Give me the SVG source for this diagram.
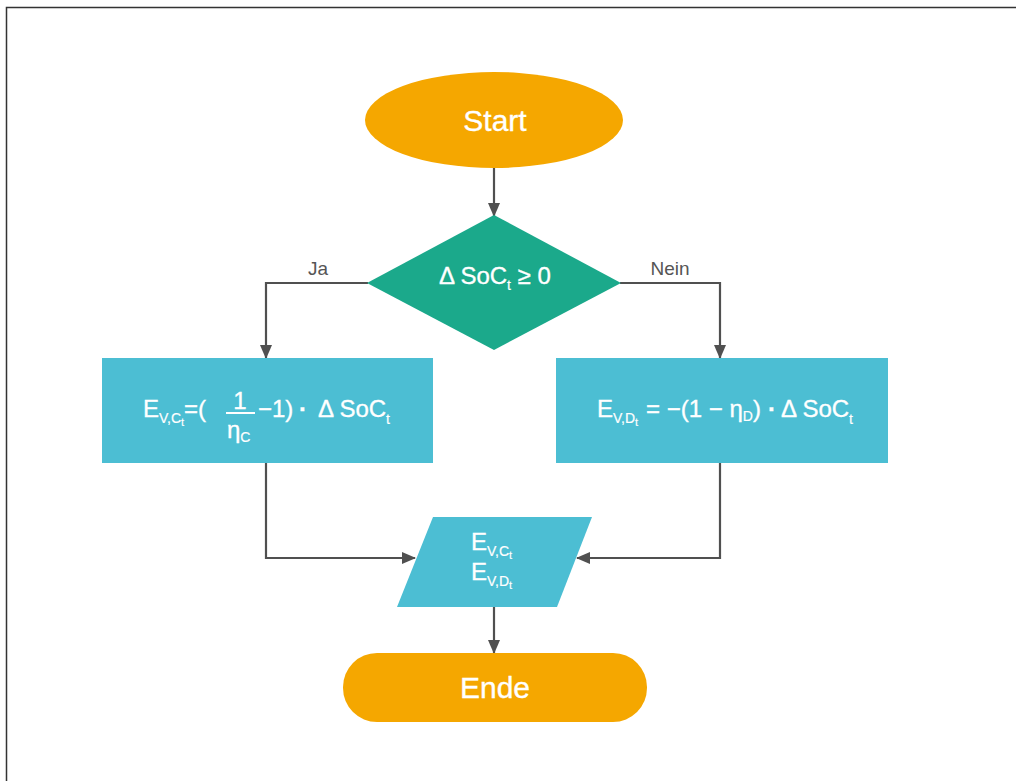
<svg xmlns="http://www.w3.org/2000/svg" width="1016" height="781" viewBox="0 0 1016 781">
  <style>
    .t { font-family: "Liberation Sans", Arial, sans-serif; fill: #ffffff; stroke: #ffffff; stroke-width: 0.35; }
    .big { font-size: 30px; }
    .f { font-size: 24px; }
    .s { font-size: 14px; stroke-width: 0.2; }
    .ss { font-size: 11px; stroke-width: 0.2; }
    .lbl { font-family: "Liberation Sans", Arial, sans-serif; font-size: 19px; fill: #555555; }
    .edge { fill: none; stroke: #505050; stroke-width: 2.2; }
  </style>
  <defs>
    <marker id="arrow" markerUnits="userSpaceOnUse" markerWidth="14" markerHeight="12" refX="13" refY="6" orient="auto">
      <path d="M0,0 L14,6 L0,12 z" fill="#505050"/>
    </marker>
  </defs>

  <rect x="0" y="0" width="1016" height="781" fill="#ffffff"/>
  <!-- frame -->
  <path d="M6.5,781 V7.5 H1016" fill="none" stroke="#333333" stroke-width="1.5"/>

  <g id="connectors">
    <path class="edge" d="M494,168 V216" marker-end="url(#arrow)"/>
    <path class="edge" d="M368,283 H266 V358" marker-end="url(#arrow)"/>
    <path class="edge" d="M620,283 H720 V358" marker-end="url(#arrow)"/>
    <path class="edge" d="M266,463 V558 H415" marker-end="url(#arrow)"/>
    <path class="edge" d="M720,463 V558 H577" marker-end="url(#arrow)"/>
    <path class="edge" d="M494,607 V653" marker-end="url(#arrow)"/>
    <text class="lbl" x="318" y="275" text-anchor="middle">Ja</text>
    <text class="lbl" x="670" y="275" text-anchor="middle">Nein</text>
  </g>

  <g id="start">
    <ellipse cx="494" cy="120" rx="129" ry="48" fill="#F5A700"/>
    <text class="t big" x="495" y="131" text-anchor="middle">Start</text>
  </g>

  <g id="decision">
    <polygon points="494,215 621,283 494,350 367,283" fill="#1BA98B"/>
    <text class="t f" x="439" y="284">Δ SoC<tspan class="s" dy="6">t</tspan><tspan dy="-6"> ≥ 0</tspan></text>
  </g>

  <g id="charge">
    <rect x="102" y="358" width="331" height="105" fill="#4CBED3"/>
    <text class="t f" x="143" y="417">E<tspan class="s" dy="6">V,C</tspan><tspan class="ss" dy="3">t</tspan></text>
    <text class="t f" x="184" y="417">=(</text>
    <text class="t f" x="240" y="409" text-anchor="middle">1</text>
    <line x1="226" y1="413" x2="255" y2="413" stroke="#ffffff" stroke-width="2"/>
    <text class="t f" x="227" y="438">η<tspan class="s" dy="4">C</tspan></text>
    <text class="t f" x="258" y="417">−1)</text>
    <text class="t f" x="299" y="417" font-weight="bold">·</text>
    <text class="t f" x="318" y="417">Δ SoC<tspan class="s" dy="7">t</tspan></text>
  </g>

  <g id="discharge">
    <rect x="556" y="358" width="332" height="105" fill="#4CBED3"/>
    <text class="t f" x="597" y="417">E<tspan class="s" dy="6">V,D</tspan><tspan class="ss" dy="3">t</tspan></text>
    <text class="t f" x="646" y="417">= −(1 − η<tspan class="s" dy="4">D</tspan><tspan dy="-4">)</tspan></text>
    <text class="t f" x="768" y="417" font-weight="bold">·</text>
    <text class="t f" x="781" y="417">Δ SoC<tspan class="s" dy="7">t</tspan></text>
  </g>

  <g id="output">
    <polygon points="433,517 592,517 557,607 397,607" fill="#4CBED3"/>
    <text class="t f" x="471" y="550">E<tspan class="s" dy="6">V,C</tspan><tspan class="ss" dy="3">t</tspan></text>
    <text class="t f" x="471" y="580">E<tspan class="s" dy="6">V,D</tspan><tspan class="ss" dy="3">t</tspan></text>
  </g>

  <g id="end">
    <rect x="343" y="653" width="304" height="69" rx="34" ry="34" fill="#F5A700"/>
    <text class="t big" x="495" y="698" text-anchor="middle">Ende</text>
  </g>
</svg>
